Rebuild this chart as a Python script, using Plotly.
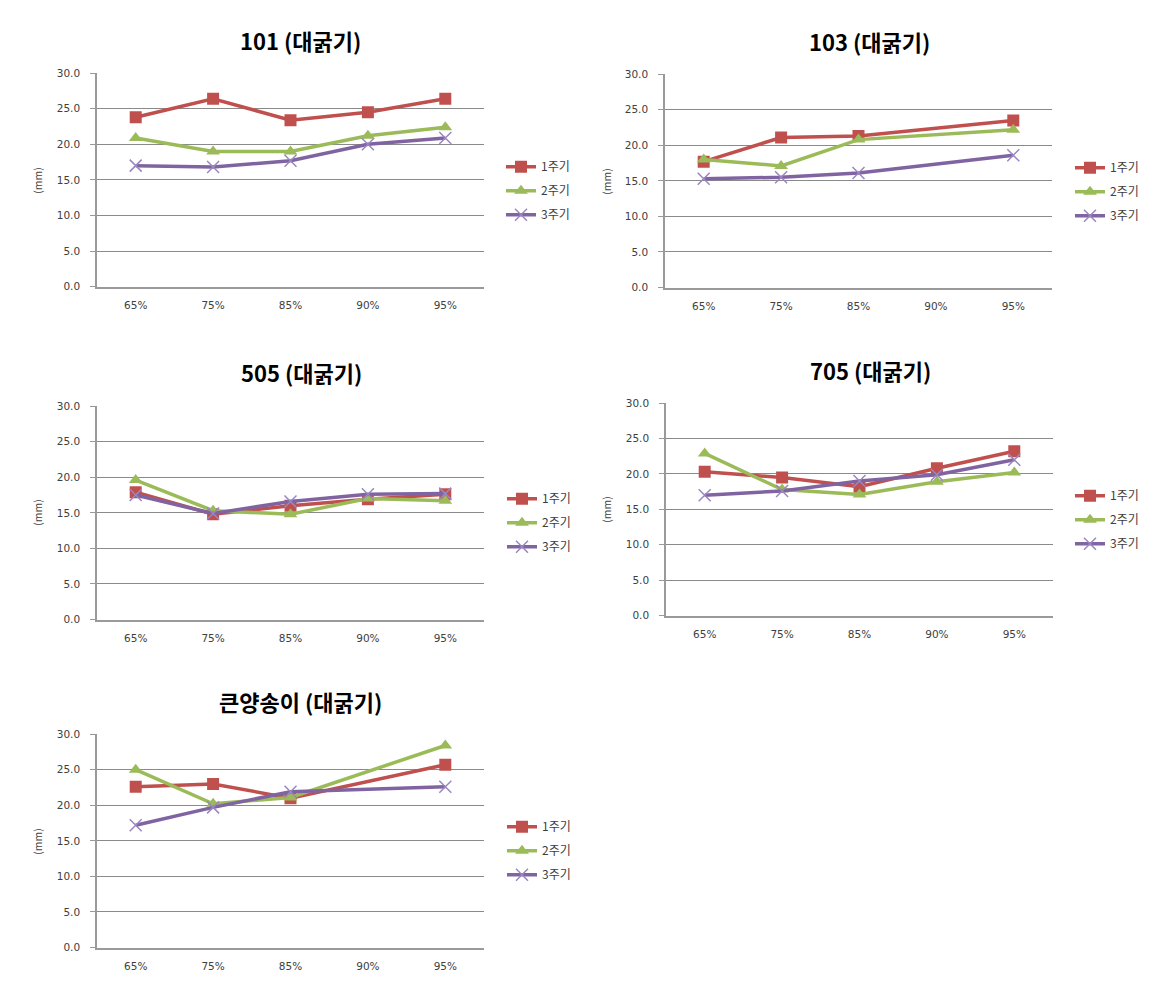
import plotly.graph_objects as go

W, H = 1173, 996

categories = ["65%", "75%", "85%", "90%", "95%"]
series_names = ["1주기", "2주기", "3주기"]
titles = ["101 (대굵기)", "103 (대굵기)", "505 (대굵기)", "705 (대굵기)", "큰양송이 (대굵기)"]
y_title = "(mm)"
y_ticks = [0, 5, 10, 15, 20, 25, 30]

# values (mm) per panel: 1주기, 2주기, 3주기 ; None = no measurement
v101_c1 = [23.8, 26.4, 23.4, 24.5, 26.4]
v101_c2 = [20.9, 19.0, 19.0, 21.2, 22.4]
v101_c3 = [17.0, 16.8, 17.7, 20.0, 20.9]

v103_c1 = [17.7, 21.1, 21.3, None, 23.5]
v103_c2 = [18.0, 17.1, 20.8, None, 22.2]
v103_c3 = [15.3, 15.5, 16.1, None, 18.6]

v505_c1 = [17.9, 14.8, 16.0, 16.9, 17.6]
v505_c2 = [19.6, 15.3, 14.8, 17.0, 16.7]
v505_c3 = [17.5, 14.9, 16.6, 17.6, 17.7]

v705_c1 = [20.3, 19.5, 18.2, 20.8, 23.2]
v705_c2 = [22.9, 17.8, 17.1, 18.9, 20.2]
v705_c3 = [17.0, 17.6, 19.0, 19.9, 22.0]

vbig_c1 = [22.6, 23.0, 21.0, None, 25.7]
vbig_c2 = [25.0, 20.2, 21.1, None, 28.4]
vbig_c3 = [17.2, 19.7, 21.9, None, 22.6]

panels_data = [
    [v101_c1, v101_c2, v101_c3],
    [v103_c1, v103_c2, v103_c3],
    [v505_c1, v505_c2, v505_c3],
    [v705_c1, v705_c2, v705_c3],
    [vbig_c1, vbig_c2, vbig_c3],
]

# layout (pixels)
plot_boxes = [  # x0, x1, ytop, ybot
    (97, 484, 68, 284),
    (665, 1052, 69, 285),
    (97, 484, 405, 621),
    (666, 1053, 402, 617),
    (97, 484, 737, 953),
]
title_pos = [(300, 34), (869, 35), (301, 370), (870, 368), (300, 703)]
ylab_pos = [(38, 177), (607, 178), (38, 513), (607, 510), (38, 846)]
legend_pos = [(507, 167), (1076, 168), (508, 503), (1076, 500), (508, 835)]

colors = ["#C0504D", "#9BBB59", "#8064A2"]
symbols = ["square", "triangle-up", "x-thin"]
sizes = [12, 12, 12]

FONT = "Noto Sans CJK KR"
TICKFONT = "DejaVu Sans"
fig = go.Figure()

layout = dict(
    width=W, height=H,
    margin=dict(l=0, r=0, t=0, b=0),
    paper_bgcolor="white", plot_bgcolor="white",
    showlegend=True,
    font=dict(family=FONT, color="#404040"),
)
annotations = []

for i, (box, data) in enumerate(zip(plot_boxes, panels_data)):
    n = i + 1
    xa = "x" if n == 1 else f"x{n}"
    ya = "y" if n == 1 else f"y{n}"
    lg = "legend" if n == 1 else f"legend{n}"
    x0, x1, yt, yb = box
    layout["xaxis" if n == 1 else f"xaxis{n}"] = dict(
        domain=[x0 / W, x1 / W], anchor=ya, type="category",
        range=[-0.5, 4.5], showgrid=False, showline=True,
        linecolor="#9a9a9a", linewidth=1.5, ticks="", zeroline=False,
        ticklabelstandoff=8,
        tickfont=dict(size=10.5, family=TICKFONT, color="#404040"),
        fixedrange=True,
    )
    layout["yaxis" if n == 1 else f"yaxis{n}"] = dict(
        domain=[1 - yb / H, 1 - yt / H], anchor=xa,
        range=[0, 30], tickvals=y_ticks, tickformat=".1f",
        showgrid=True, gridcolor="#8a8a8a", gridwidth=1,
        showline=True, linecolor="#9a9a9a", linewidth=1.5,
        ticks="outside", ticklen=5, tickcolor="#9a9a9a",
        ticklabelstandoff=8,
        zeroline=False, tickfont=dict(size=10.5, family=TICKFONT, color="#404040"),
        fixedrange=True,
    )
    lx, ly = legend_pos[i]
    layout[lg] = dict(
        x=(lx - 6) / W, y=1 - (ly - 19) / H, xanchor="left", yanchor="top",
        bgcolor="rgba(0,0,0,0)", font=dict(size=12, family=FONT, color="#404040"),
        tracegroupgap=5, itemwidth=30,
    )
    for s, vals in enumerate(data):
        marker = dict(color=colors[s], size=sizes[s], symbol=symbols[s])
        if symbols[s] == "x-thin":
            marker["line"] = dict(color="#9a86c0", width=1.5)
        fig.add_trace(go.Scatter(
            x=categories, y=vals, name=series_names[s], mode="lines+markers",
            line=dict(color=colors[s], width=3.5), marker=marker,
            connectgaps=True, xaxis=xa, yaxis=ya, legend=lg,
            legendgroup=f"p{n}s{s}",
        ))
    tx, ty = title_pos[i]
    annotations.append(dict(
        text=f"<b>{titles[i]}</b>", x=tx / W, y=1 - ty / H, xref="paper", yref="paper",
        xanchor="center", yanchor="middle", showarrow=False,
        font=dict(size=22, family=FONT, color="#000000"),
    ))
    yx, yy = ylab_pos[i]
    annotations.append(dict(
        text=y_title, x=yx / W, y=1 - yy / H, xref="paper", yref="paper",
        xanchor="center", yanchor="middle", showarrow=False, textangle=-90,
        font=dict(size=10.5, family=FONT, color="#404040"),
    ))

layout["annotations"] = annotations
fig.update_layout(**layout)
fig.write_html("out.html")
